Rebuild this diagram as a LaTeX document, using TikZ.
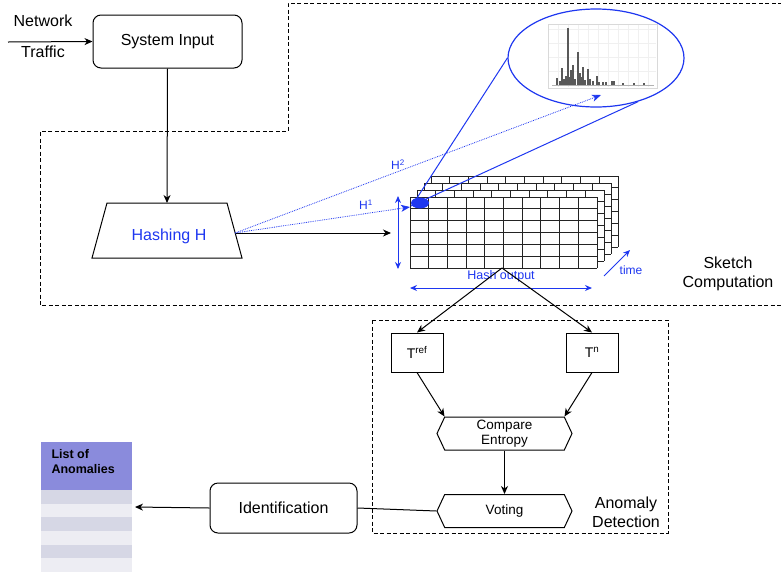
\documentclass[tikz,border=0pt]{standalone}
\usepackage{fontspec}
\setmainfont{Liberation Sans}
\usetikzlibrary{arrows.meta,shapes.symbols,shapes.geometric}
\definecolor{mblue}{RGB}{30,55,240}
\definecolor{hdr}{RGB}{138,139,220}
\definecolor{sdark}{RGB}{214,215,229}
\definecolor{slight}{RGB}{237,237,243}
\begin{document}
\begin{tikzpicture}[x=1pt,y=-1pt,
  arr/.style={-{Stealth[length=8pt,width=7pt,inset=2.5pt]},line width=1pt},
  conn/.style={line width=1pt},
  barr/.style={mblue,line width=1pt},
  bdot/.style={mblue,densely dotted,line width=0.8pt,-{Stealth[length=9pt,width=7pt,inset=2.5pt]}},
  region/.style={dash pattern=on 4pt off 2.5pt,line width=1pt},
  rbox/.style={draw,rounded corners=8pt,line width=1pt,font=\fontsize{16}{18}\selectfont},
  tbox/.style={draw,line width=1pt,minimum width=52pt,minimum height=39pt,font=\fontsize{14}{16}\selectfont},
  hexa/.style={draw,line width=1pt,signal,signal to=west and east,signal pointer angle=130,minimum width=135pt,minimum height=33pt,inner xsep=2pt,inner ysep=1pt,font=\fontsize{13.5}{15}\selectfont,align=center},
  gridline/.style={line width=1pt,draw={rgb,255:red,35;green,35;blue,35}},
  lbl/.style={font=\fontsize{16}{19}\selectfont,align=center}
]
\useasboundingbox (0,0) rectangle (781,574);

% Sketch computation region
\draw[region] (782,3) -- (288,3) -- (288,131) -- (40,131) -- (40,305) -- (782,305);
% Anomaly detection region
\draw[region] (372,320) rectangle (668,533);

% System input
\node[rbox,minimum width=149pt,minimum height=53pt] (sysin) at (167.5,41.5) {System Input};
\node[lbl,align=center] (traffic) at (43,36) {Network\\[12pt]Traffic};
\coordinate (trafstart) at (8,42);
\draw[arr] (trafstart) -- (sysin.west);

% Hashing trapezoid
\draw[line width=1pt] (107,203) -- (227,203) -- (242,258) -- (92,258) -- cycle;
\node[font=\fontsize{16}{18}\selectfont,text=mblue] (hash) at (169,236) {Hashing H};
\coordinate (hashtop) at (167,203);
\coordinate (hashR) at (235,233);
\draw[arr] (sysin.south) -- (hashtop);

% grid layers
\foreach \d in {21,14,7,0} {
  \fill[white] (410+\d,197-\d) rectangle (597+\d,268-\d);
  \foreach \i in {0,...,10} \draw[gridline] (410+\d+\i*18.7,197-\d) -- (410+\d+\i*18.7,268-\d);
  \foreach \j in {0,...,6} \draw[gridline] (410+\d,197-\d+\j*11.833) -- (597+\d,197-\d+\j*11.833);
}
\coordinate (gridin) at (391,233);
\coordinate (gridbot) at (502,268);
\draw[arr] (hashR) -- (gridin);

% magnifier ellipse with histogram
\node[draw=mblue,line width=1.2pt,ellipse,minimum width=176pt,minimum height=98pt] (mag) at (596,58) {};
\draw[gray!30,line width=0.4pt] (548,24) rectangle (657,88);
\foreach \gx in {558,568,578,588,598,608,618,628,638,648} \draw[gray!12,line width=0.3pt] (\gx,25) -- (\gx,87);
\foreach \gy in {29,43,57,71} \draw[gray!12,line width=0.3pt] (549,\gy) -- (656,\gy);
\foreach \bx/\bh in {557/7,560/4,562/17,564/6,566/9,568/57,570/8,571/15,573/20,575/6,578/33,580/12,581/8,583/18,585/5,588/16,590/6,593/4,597/9,599/3,603/3,606/3,612/4,614/4,623/2,634/2,644/2}
  \fill[gray!70!black] (\bx-0.8,85) rectangle (\bx+0.8,85-\bh);
\draw[gray!60,line width=0.4pt] (552,85.3) -- (654,85.3);

% cell blob and zoom lines
\node[fill=mblue,ellipse,minimum width=18pt,minimum height=11pt,inner sep=0pt] (cell) at (420,203) {};
\coordinate (cellA) at (415,201);
\coordinate (cellB) at (411,206);
\draw[barr] (mag.west) -- (cellA);
\draw[barr] (mag.-46) -- (cellB);

% dotted hash lines
\coordinate (h1end) at (410,207);
\coordinate (h2end) at (601,95);
\draw[bdot] (hashR) -- (h1end);
\draw[bdot] (hashR) -- (h2end);
\node[text=mblue,font=\fontsize{12}{14}\selectfont] (H1) at (366,205) {H\textsuperscript{1}};
\node[text=mblue,font=\fontsize{12}{14}\selectfont] (H2) at (398,165) {H\textsuperscript{2}};

% blue dimension arrows
\coordinate (vt) at (398,196);
\coordinate (vb) at (398,269);
\draw[barr,{Stealth[length=7pt,width=6pt]}-{Stealth[length=7pt,width=6pt]}] (vt) -- (vb);
\coordinate (hl) at (410,288);
\coordinate (hr) at (592,288);
\draw[barr,{Stealth[length=7pt,width=6pt]}-{Stealth[length=7pt,width=6pt]}] (hl) -- (hr);
\coordinate (t0) at (604,276);
\coordinate (t1) at (630,250);
\draw[barr,-{Stealth[length=7pt,width=6pt]}] (t0) -- (t1);
\node[text=mblue,font=\fontsize{12.5}{14}\selectfont] (hashout) at (501,276) {Hash output};
\node[text=mblue,font=\fontsize{12}{14}\selectfont] (time) at (631,270) {time};

\node[lbl] (sketch) at (728,274) {Sketch\\Computation};

% anomaly detection
\node[tbox] (tref) at (417,352.5) {T\textsuperscript{ref}};
\node[tbox] (tn) at (592,352.5) {T\textsuperscript{n}};
\draw[arr] (gridbot) -- (tref.north);
\draw[arr] (gridbot) -- (tn.north);
\node[hexa] (cmp) at (504.5,433.5) {Compare\\[0pt]Entropy};
\node[hexa] (vote) at (504.5,511) {Voting};
\draw[arr] (tref.south) -- ([xshift=-60pt]cmp.north);
\draw[arr] (tn.south) -- ([xshift=60pt]cmp.north);
\draw[arr] (cmp.south) -- (vote.north);
\node[lbl] (anom) at (626,512) {Anomaly\\Detection};

% identification
\node[rbox,minimum width=147pt,minimum height=50pt] (ident) at (283.5,508) {Identification};
\draw[conn] (vote.west) -- (ident.east);

% list of anomalies
\fill[hdr] (41,442) rectangle (132,490);
\foreach \k/\c in {0/sdark,1/slight,2/sdark,3/slight,4/sdark,5/slight}
  \fill[\c] (41,490+\k*13.67) rectangle (132,490+\k*13.67+13.67);
\node[font=\bfseries\fontsize{12.5}{15}\selectfont,align=left,anchor=north west] (list) at (48,446) {List of\\Anomalies};
\coordinate (listR) at (135,507);
\draw[arr] (ident.west) -- (listR);
\end{tikzpicture}
\end{document}
